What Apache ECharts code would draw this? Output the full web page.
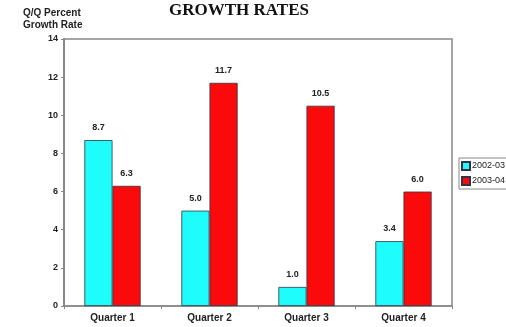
<!DOCTYPE html>
<html>
<head>
<meta charset="utf-8">
<script src="https://cdn.jsdelivr.net/npm/echarts@6/dist/echarts.min.js"></script>
<style>
  html, body { margin: 0; padding: 0; background: #fff; }
  #chart { width: 506px; height: 327px; }
</style>
</head>
<body>
<div id="chart"></div>
<script>
// Quarter-on-quarter growth, two fiscal years side by side
const quarters = ['Quarter 1', 'Quarter 2', 'Quarter 3', 'Quarter 4'];
const fy2002 = [8.7, 5.0, 1.0, 3.4];
const fy2003 = [6.3, 11.7, 10.5, 6.0];
const seriesNames = ['2002-03', '2003-04'];
const yTicks = [0, 2, 4, 6, 8, 10, 12, 14];

const chart = echarts.init(document.getElementById('chart'), null, { renderer: 'canvas' });

const sans = 'Liberation Sans, Arial, sans-serif';

const labelStyle = {
  show: true,
  position: 'top',
  distance: 8,
  formatter: p => p.value.toFixed(1),
  fontFamily: sans,
  fontWeight: 'bold',
  fontSize: 9,
  color: '#222'
};

chart.setOption({
  animation: false,
  backgroundColor: '#ffffff',
  title: [{
    text: 'GROWTH RATES',
    left: 239,
    top: 2,
    padding: 0,
    textAlign: 'center',
    textStyle: {
      fontFamily: 'Liberation Serif, Times New Roman, serif',
      fontWeight: 'bold',
      fontSize: 17,
      color: '#111'
    }
  }, {
    text: 'Q/Q Percent\nGrowth Rate',
    left: 23,
    top: 7,
    padding: 0,
    textStyle: {
      fontFamily: sans,
      fontWeight: 'bold',
      fontSize: 10,
      lineHeight: 12,
      color: '#222'
    }
  }],
  legend: {
    orient: 'vertical',
    left: 459,
    top: 158,
    padding: [3, 4, 3, 2],
    itemGap: 5,
    itemWidth: 8,
    itemHeight: 8,
    borderColor: '#888',
    borderWidth: 1,
    borderRadius: 0,
    icon: 'rect',
    data: seriesNames,
    textStyle: {
      fontFamily: sans,
      fontSize: 9,
      color: '#222',
      padding: [0, 0, 0, -3]
    }
  },
  grid: {
    left: 64,
    right: 54,
    top: 39,
    bottom: 21,
    show: true,
    borderColor: '#888',
    borderWidth: 1.5
  },
  xAxis: {
    type: 'category',
    data: quarters,
    axisLine: { lineStyle: { color: '#888', width: 1.5 } },
    axisTick: { show: true, length: 3, lineStyle: { color: '#888' } },
    axisLabel: {
      fontFamily: sans,
      fontWeight: 'bold',
      fontSize: 10,
      color: '#222',
      margin: 7
    }
  },
  yAxis: {
    type: 'value',
    min: yTicks[0],
    max: yTicks[yTicks.length - 1],
    interval: 2,
    splitLine: { show: false },
    axisLine: { show: true, lineStyle: { color: '#888', width: 2 } },
    axisTick: { show: true, length: 3, lineStyle: { color: '#888' } },
    axisLabel: {
      fontFamily: sans,
      fontWeight: 'bold',
      fontSize: 9,
      color: '#222',
      margin: 6
    }
  },
  series: [{
    name: seriesNames[0],
    type: 'bar',
    data: fy2002,
    barGap: '0%',
    barCategoryGap: '42%',
    itemStyle: { color: '#1ffcfc', borderColor: '#334', borderWidth: 0.8 },
    label: labelStyle
  }, {
    name: seriesNames[1],
    type: 'bar',
    data: fy2003,
    itemStyle: { color: '#fa0a0a', borderColor: '#334', borderWidth: 0.8 },
    label: labelStyle
  }]
});
</script>
</body>
</html>
